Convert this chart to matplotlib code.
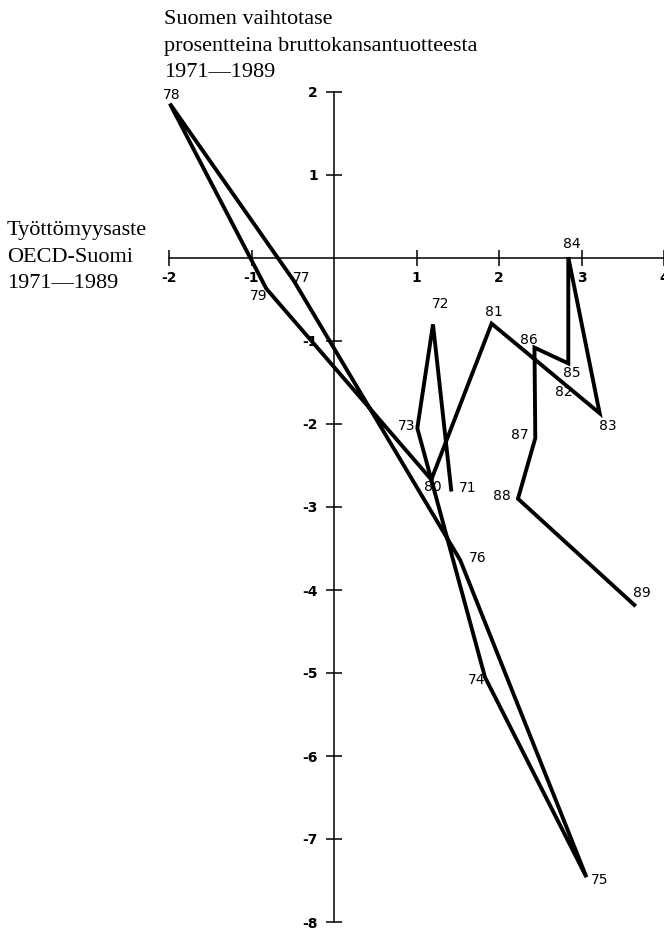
import matplotlib
matplotlib.use("Agg")
import matplotlib.pyplot as plt

# unemployment gap OECD - Finland (x) vs. Finnish current account % of GDP (y)
years = ["71", "72", "73", "74", "75", "76", "77", "78", "79", "80",
         "81", "82", "83", "84", "85", "86", "87", "88", "89"]
gap = [1.42, 1.20, 1.01, 1.83, 3.06, 1.53, -0.49, -1.99, -0.82, 1.18,
       1.91, 2.82, 3.22, 2.84, 2.84, 2.43, 2.44, 2.23, 3.64]
balance = [-2.79, -0.80, -2.05, -5.05, -7.46, -3.64, -0.27, 1.86, -0.37, -2.67,
           -0.79, -1.54, -1.87, 0.01, -1.27, -1.08, -2.17, -2.90, -4.18]

# label offsets in pixels (right, down) from each point
label_dx = [17, 8, -11, -8, 13, 17, 8, 2, -8, 1, 2, -3, 8, 4, 4, -6, -15, -16, 8]
label_dy = [-2, -20, -2, 3, 3, -2, -2, -9, 7, 7, -12, 6, 13, -13, 10, -8, -3, -3, -12]

xticks = [-2, -1, 1, 2, 3, 4]
yticks = [-8, -7, -6, -5, -4, -3, -2, -1, 1, 2]

W, H = 664, 932
fig = plt.figure(figsize=(W / 100, H / 100), dpi=100)
ax = fig.add_axes([0, 0, 1, 1])

# pixel layout of the original: origin at (334, 258), 82.5 px / unit in x, 83 px / unit in y
x0, y0, sx, sy = 334, 258, 82.5, 83
ax.set_xlim(-x0 / sx, (W - x0) / sx)
ax.set_ylim((y0 - H) / sy, y0 / sy)

ax.plot(gap, balance, color="black", lw=2.8, solid_joinstyle="miter", zorder=3)

px = 0.72  # points per pixel
for yr, x, y, dx, dy in zip(years, gap, balance, label_dx, label_dy):
    ax.annotate(yr, (x, y), xytext=(dx * px, -dy * px), textcoords="offset points",
                ha="center", va="center", fontsize=10, family="DejaVu Sans",
                fontweight="medium", zorder=4)

for s in ["top", "right"]:
    ax.spines[s].set_visible(False)
ax.spines["left"].set_position(("data", 0))
ax.spines["bottom"].set_position(("data", 0))
ax.spines["left"].set_bounds(-8, 2)
ax.spines["bottom"].set_bounds(-2, (W - x0) / sx)
for s in ["left", "bottom"]:
    ax.spines[s].set_linewidth(1.1)

ax.set_xticks(xticks)
ax.set_xticklabels([str(t) for t in xticks])
ax.set_yticks(yticks)
ax.set_yticklabels([str(t) for t in yticks])
ax.tick_params(direction="inout", length=11, width=1.1, labelsize=10)
ax.tick_params(axis="x", pad=4)
ax.tick_params(axis="y", pad=6)
for lab in ax.get_xticklabels() + ax.get_yticklabels():
    lab.set_fontweight("bold")
ax.patch.set_visible(False)

serif = "Liberation Serif"
title_lines = ["Suomen vaihtotase", "prosentteina bruttokansantuotteesta", "1971\u20141989"]
for i, t in enumerate(title_lines):
    fig.text(164 / W, 1 - (24 + 26.5 * i) / H, t, family=serif, fontsize=16, va="baseline")

xlab_lines = ["Työttömyysaste", "OECD-Suomi", "1971\u20141989"]
for i, t in enumerate(xlab_lines):
    fig.text(7 / W, 1 - (235 + 26.6 * i) / H, t, family=serif, fontsize=16, va="baseline")

fig.savefig("out.png", dpi=100)
